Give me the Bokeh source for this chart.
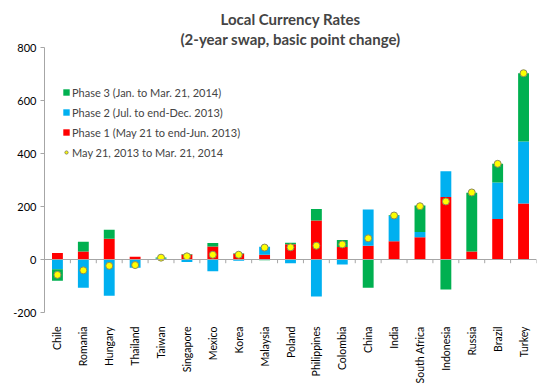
from bokeh.plotting import figure
from bokeh.models import (FactorRange, Range1d, Span, Legend, LegendItem, Title,
                          FixedTicker, ColumnDataSource)
from bokeh.embed import file_html
from bokeh.resources import INLINE

categories = ["Chile", "Romania", "Hungary", "Thailand", "Taiwan", "Singapore",
              "Mexico", "Korea", "Malaysia", "Poland", "Philippines", "Colombia",
              "China", "India", "South Africa", "Indonesia", "Russia", "Brazil", "Turkey"]
phase1 = [25, 30, 78, 10, 2, 19, 49, 22, 18, 58, 147, 47, 52, 69, 84, 236, 30, 153, 211]
phase2 = [-37, -107, -137, -31, 2, -9, -44, -5, 30, -14, -140, -19, 137, 95, 20, 97, 0, 138, 234]
phase3 = [-43, 37, 34, 0, 4, 2, 13, 2, -3, 5, 44, 27, -107, 3, 100, -113, 222, 70, 258]
total = [-58, -41, -24, -21, 7, 12, 18, 18, 45, 46, 52, 57, 80, 166, 201, 219, 253, 361, 703]
y_ticks = [-200, 0, 200, 400, 600, 800]

series_names = ["Phase 1 (May 21 to end-Jun. 2013)",
                "Phase 2 (Jul. to end-Dec. 2013)",
                "Phase 3 (Jan. to Mar. 21, 2014)"]
dot_name = "May 21, 2013 to Mar. 21, 2014"
colors = ["#FF0000", "#00B0F0", "#00B050"]

FONT = "Lato"

# stacking: positives upward, negatives downward
pos_base = [0.0] * len(categories)
neg_base = [0.0] * len(categories)
stacks = []
for vals in (phase1, phase2, phase3):
    bottoms, tops = [], []
    for i, v in enumerate(vals):
        if v >= 0:
            bottoms.append(pos_base[i]); tops.append(pos_base[i] + v); pos_base[i] += v
        else:
            bottoms.append(neg_base[i]); tops.append(neg_base[i] + v); neg_base[i] += v
    stacks.append((bottoms, tops))

p = figure(width=546, height=386, x_range=FactorRange(*categories, range_padding=0),
           y_range=Range1d(-200, 800), output_backend="svg", toolbar_location=None,
           min_border_left=44, min_border_right=10, min_border_top=47, min_border_bottom=74)
p.outline_line_color = None
p.background_fill_color = "white"
p.border_fill_color = "white"
p.xgrid.visible = False
p.ygrid.visible = False

renderers = []
for (bottoms, tops), col in zip(stacks, colors):
    src = ColumnDataSource(dict(x=categories, bottom=bottoms, top=tops))
    r = p.vbar(x="x", bottom="bottom", top="top", width=0.42, source=src,
               fill_color=col, line_color=None)
    renderers.append(r)

zero = Span(location=0, dimension="width", line_color="#A6A6A6", line_width=1)
p.add_layout(zero)

# category separator ticks on the zero line
bx = list(range(1, len(categories) + 1))
p.segment(x0=bx, y0=[0] * len(bx), x1=bx, y1=[-14] * len(bx),
          line_color="#A6A6A6", line_width=1)

dots = p.scatter(x=categories, y=total, size=7, fill_color="#FFFF00",
                 line_color="#8C8A5A", line_width=1)

# axes
p.xaxis.axis_line_color = None
p.xaxis.major_tick_line_color = None
p.xaxis.minor_tick_line_color = None
p.xaxis.major_label_orientation = 1.5707963
p.xaxis.major_label_standoff = 8
p.xaxis.major_label_text_font = FONT
p.xaxis.major_label_text_font_size = "10.5px"
p.xaxis.major_label_text_color = "#000000"

p.yaxis.ticker = FixedTicker(ticks=y_ticks)
p.yaxis.major_label_overrides = {t: str(t) for t in y_ticks}
p.yaxis.axis_line_color = "#A6A6A6"
p.yaxis.major_tick_line_color = "#A6A6A6"
p.yaxis.major_tick_out = 4
p.yaxis.major_tick_in = 0
p.yaxis.minor_tick_line_color = None
p.yaxis.major_label_standoff = 4
p.yaxis.major_label_text_font = FONT
p.yaxis.major_label_text_font_size = "11px"
p.yaxis.major_label_text_color = "#000000"

legend = Legend(items=[LegendItem(label=series_names[2], renderers=[renderers[2]]),
                       LegendItem(label=series_names[1], renderers=[renderers[1]]),
                       LegendItem(label=series_names[0], renderers=[renderers[0]]),
                       LegendItem(label=dot_name, renderers=[dots])],
                location=(18, 150), padding=0, margin=0, spacing=0,
                glyph_width=8, glyph_height=8, label_height=20, label_standoff=2,
                label_text_font=FONT, label_text_font_size="11px",
                background_fill_alpha=0, border_line_color=None)
p.add_layout(legend, "center")

p.add_layout(Title(text="(2-year swap, basic point change)", align="center",
                   text_font=FONT, text_font_size="15px", text_font_style="bold",
                   standoff=0), "above")
p.add_layout(Title(text="Local Currency Rates", align="center",
                   text_font=FONT, text_font_size="15px", text_font_style="bold",
                   standoff=0), "above")

open("out.html", "w").write(file_html(p, INLINE))
